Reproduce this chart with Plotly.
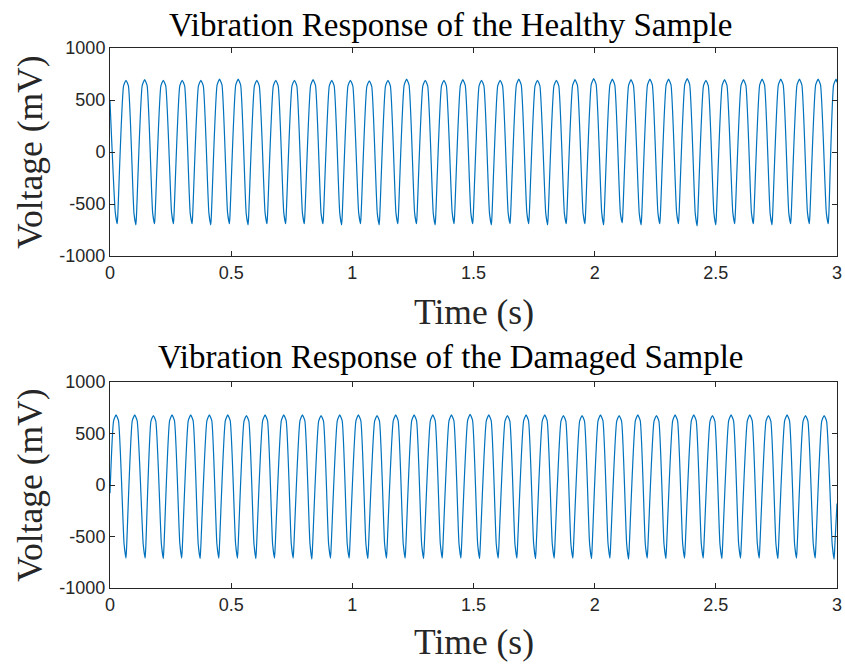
import plotly.graph_objects as go
from plotly.subplots import make_subplots

# ---------------- data ----------------
healthy_start = (0.0, 490)
healthy_end = (3.0, 670)
healthy_trough_t = [0.030, 0.107, 0.184, 0.262, 0.339, 0.416, 0.493, 0.570, 0.648, 0.725,
                    0.802, 0.879, 0.956, 1.034, 1.111, 1.188, 1.265, 1.342, 1.420, 1.497,
                    1.574, 1.651, 1.728, 1.806, 1.883, 1.960, 2.037, 2.114, 2.192, 2.269,
                    2.346, 2.423, 2.500, 2.578, 2.655, 2.732, 2.809, 2.886, 2.964]
healthy_trough_v = [-690, -700, -690, -690, -690, -700, -690, -700, -690, -690,
                    -690, -690, -700, -690, -700, -690, -690, -700, -690, -690,
                    -700, -690, -690, -700, -690, -690, -700, -680, -700, -690,
                    -690, -710, -700, -690, -690, -700, -690, -690, -690]
healthy_knee_v = [-585, -590, -585, -580, -590, -585, -580, -590, -585, -580,
                  -585, -590, -585, -580, -590, -585, -585, -590, -580, -585,
                  -590, -585, -580, -585, -590, -585, -580, -585, -590, -585,
                  -580, -590, -585, -580, -585, -590, -585, -580, -585]
healthy_peak_t = [0.066, 0.143, 0.220, 0.298, 0.375, 0.452, 0.529, 0.606, 0.684, 0.761,
                  0.838, 0.915, 0.992, 1.070, 1.147, 1.224, 1.301, 1.378, 1.456, 1.533,
                  1.610, 1.687, 1.764, 1.842, 1.919, 1.996, 2.073, 2.150, 2.228, 2.305,
                  2.382, 2.459, 2.536, 2.614, 2.691, 2.768, 2.845, 2.922, 2.996]
healthy_peak_v = [690, 695, 690, 690, 690, 700, 700, 690, 690, 690,
                  695, 690, 690, 685, 690, 700, 690, 690, 695, 690,
                  690, 700, 690, 690, 695, 705, 700, 695, 700, 700,
                  705, 690, 695, 695, 700, 700, 700, 700, 700]

damaged_start = (0.0, -80)
damaged_end = (3.0, -180)
damaged_peak_t = [0.025, 0.102, 0.179, 0.256, 0.333, 0.410, 0.486, 0.563, 0.640, 0.717,
                  0.794, 0.871, 0.948, 1.025, 1.102, 1.179, 1.255, 1.332, 1.409, 1.486,
                  1.563, 1.640, 1.717, 1.794, 1.871, 1.948, 2.024, 2.101, 2.178, 2.255,
                  2.332, 2.409, 2.486, 2.563, 2.640, 2.717, 2.794, 2.870, 2.947]
damaged_peak_v = [680, 680, 675, 680, 680, 680, 680, 675, 680, 680,
                  680, 675, 680, 680, 675, 680, 680, 680, 680, 685,
                  680, 675, 680, 680, 675, 675, 680, 675, 680, 675,
                  680, 680, 675, 680, 680, 675, 680, 675, 675]
damaged_trough_t = [0.066, 0.145, 0.220, 0.296, 0.372, 0.449, 0.526, 0.602, 0.679, 0.756,
                    0.833, 0.910, 0.987, 1.064, 1.141, 1.218, 1.294, 1.371, 1.448, 1.525,
                    1.602, 1.679, 1.756, 1.833, 1.910, 1.987, 2.063, 2.140, 2.217, 2.294,
                    2.371, 2.448, 2.525, 2.602, 2.679, 2.756, 2.833, 2.910, 2.988]
damaged_trough_v = [-710, -710, -715, -710, -715, -710, -710, -715, -710, -710,
                    -720, -710, -710, -715, -710, -710, -715, -710, -710, -715,
                    -710, -710, -715, -710, -710, -715, -710, -720, -710, -715,
                    -710, -710, -715, -710, -710, -715, -710, -710, -720]
damaged_knee_v = [-570, -575, -570, -565, -575, -570, -565, -570, -575, -570,
                  -565, -570, -575, -570, -565, -570, -575, -570, -565, -570,
                  -575, -570, -565, -570, -575, -570, -565, -570, -575, -570,
                  -565, -570, -575, -570, -565, -570, -575, -570, -570]

# waveform shape offsets (seconds / mV) read from a single period
KNEE_LEAD = 0.008      # knee sits just before each trough
SHOULDER = 0.010       # flat-ish top: shoulders either side of each peak
SHOULDER_DROP = 55
RISE_LAG = 0.003       # steep rise right after the trough spike
RISE_GAIN = 130


def build(start, end, peaks_t, peaks_v, troughs_t, troughs_v, knees_v):
    pts = [start, end]
    for t, v in zip(peaks_t, peaks_v):
        pts += [(t - SHOULDER, v - SHOULDER_DROP), (t, v), (t + SHOULDER, v - SHOULDER_DROP)]
    for t, v, k in zip(troughs_t, troughs_v, knees_v):
        pts += [(t - KNEE_LEAD, k), (t, v), (t + RISE_LAG, v + RISE_GAIN)]
    pts = [p for p in pts if 0.0 <= p[0] <= 3.0]
    pts.sort(key=lambda p: p[0])
    return [p[0] for p in pts], [p[1] for p in pts]


hx, hy = build(healthy_start, healthy_end, healthy_peak_t, healthy_peak_v,
               healthy_trough_t, healthy_trough_v, healthy_knee_v)
dx, dy = build(damaged_start, damaged_end, damaged_peak_t, damaged_peak_v,
               damaged_trough_t, damaged_trough_v, damaged_knee_v)

x_ticks = [0, 0.5, 1, 1.5, 2, 2.5, 3]
x_tick_text = ["0", "0.5", "1", "1.5", "2", "2.5", "3"]
y_ticks = [-1000, -500, 0, 500, 1000]
y_tick_text = ["-1000", "-500", "0", "500", "1000"]

titles = ["Vibration Response of the Healthy Sample",
          "Vibration Response of the Damaged Sample"]

# ---------------- figure ----------------
W, H = 845, 667
ML, MR, MT, MB = 110, 8, 48, 79
PW, PH = W - ML - MR, H - MT - MB


def px(x):
    return (x - ML) / PW


def py(y):
    return (H - MB - y) / PH


fig = make_subplots(rows=2, cols=1)
line_color = "#0072BD"
line_style = dict(color=line_color, width=1.2, shape="spline", smoothing=0.5)
fig.add_trace(go.Scatter(x=hx, y=hy, mode="lines", line=line_style, showlegend=False), row=1, col=1)
fig.add_trace(go.Scatter(x=dx, y=dy, mode="lines", line=line_style, showlegend=False), row=2, col=1)

axis_color = "#262626"
tickfont = dict(family="Liberation Sans, Arial", size=18, color=axis_color)
common_x = dict(range=[0, 3], tickvals=x_ticks, ticktext=x_tick_text,
                showline=True, linecolor=axis_color, linewidth=1, mirror="ticks",
                ticks="inside", ticklen=5, tickcolor=axis_color, showgrid=False,
                zeroline=False, tickfont=tickfont, automargin=False)
common_y = dict(range=[-1000, 1000], tickvals=y_ticks, ticktext=y_tick_text,
                showline=True, linecolor=axis_color, linewidth=1, mirror="ticks",
                ticks="inside", ticklen=5, tickcolor=axis_color, showgrid=False,
                zeroline=False, tickfont=tickfont, automargin=False)

fig.update_xaxes(**common_x)
fig.update_yaxes(**common_y)
fig.update_layout(
    xaxis=dict(domain=[0, 1]), xaxis2=dict(domain=[0, 1]),
    yaxis=dict(domain=[py(256), py(48)]),
    yaxis2=dict(domain=[py(588), py(382)]),
)

serif = "Liberation Serif, Times New Roman, serif"
ann = []
for title, ty in zip(titles, [25, 357]):
    ann.append(dict(text=title, x=px(450), y=py(ty), xref="paper", yref="paper",
                    xanchor="center", yanchor="middle", showarrow=False,
                    font=dict(family=serif, size=33, color="black")))
for ly in [312, 642]:
    ann.append(dict(text="Time (s)", x=px(474), y=py(ly), xref="paper", yref="paper",
                    xanchor="center", yanchor="middle", showarrow=False,
                    font=dict(family=serif, size=35.5, color=axis_color)))
for vy in [152, 485]:
    ann.append(dict(text="Voltage (mV)", x=px(30), y=py(vy), xref="paper", yref="paper",
                    xanchor="center", yanchor="middle", showarrow=False, textangle=-90,
                    font=dict(family=serif, size=35.5, color=axis_color)))

fig.update_layout(
    width=W, height=H,
    margin=dict(l=ML, r=MR, t=MT, b=MB),
    paper_bgcolor="white", plot_bgcolor="white",
    annotations=ann,
)

fig.write_html("out.html",
               config={"displayModeBar": False},
               post_script="document.body.style.margin='0';document.body.style.overflow='hidden';")
